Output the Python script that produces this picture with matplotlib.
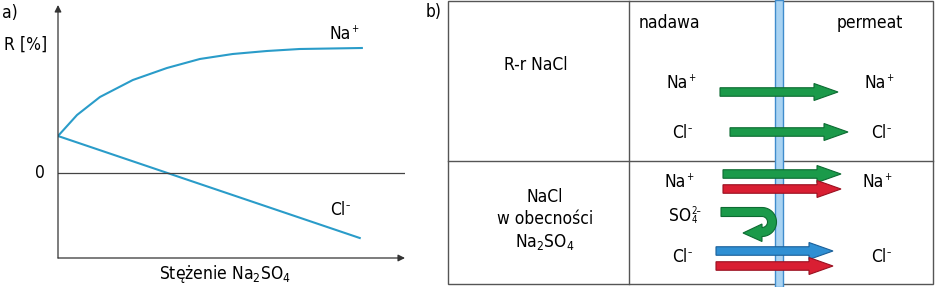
import numpy as np
import matplotlib
matplotlib.use("Agg")
import matplotlib.pyplot as plt
from matplotlib.patches import FancyArrow, Rectangle, Polygon

plt.rcParams['font.family'] = ['DejaVu Sans']
plt.rcParams['font.stretch'] = 'condensed'
plt.rcParams['mathtext.default'] = 'regular'

# panel a) data (arbitrary units read off the sketch)
conc_na = [0, 0.63, 1.39, 2.48, 3.61, 4.70, 5.79, 6.92, 8.01, 10.07]
r_na = [3.7, 5.8, 7.6, 9.3, 10.5, 11.4, 11.9, 12.2, 12.4, 12.5]
conc_cl = [0, 10.0]
r_cl = [3.7, -6.5]

# panel b) table texts
row_labels = ['R-r NaCl', 'NaCl\nw obecności\nNa$_2$SO$_4$']
col_labels = ['nadawa', 'permeat']

curve_col = '#2a9cc9'
green, green_e = '#1b9a4a', '#0d6b32'
red, red_e = '#d91f33', '#9a1020'
blue, blue_e = '#2f8fd3', '#1a5f99'
line_col = '#555555'

fs = 12.5

fig = plt.figure(figsize=(9.38, 2.87), dpi=100)

# ---- panel a ----
ax = fig.add_axes([58 / 938, 29 / 287, 347 / 938, 253 / 287])
ax.set_xlim(0, 11.5)
ax.set_ylim(-8.5, 16.8)
ax.plot(conc_na, r_na, color=curve_col, lw=1.5)
ax.plot(conc_cl, r_cl, color=curve_col, lw=1.5)
ax.axhline(0, color='#444444', lw=0.9)
for s in ax.spines.values():
    s.set_visible(False)
ax.set_xticks([])
ax.set_yticks([])
ax.annotate('', xy=(0, 1), xytext=(0, 0), xycoords='axes fraction',
            arrowprops=dict(arrowstyle='-|>', color='#333333', lw=0.9,
                            mutation_scale=10, shrinkA=0, shrinkB=0))
ax.annotate('', xy=(1, 0), xytext=(0, 0), xycoords='axes fraction',
            arrowprops=dict(arrowstyle='-|>', color='#333333', lw=0.9,
                            mutation_scale=10, shrinkA=0, shrinkB=0))

# ---- overlay in pixel coords for panel b and labels ----
ov = fig.add_axes([0, 0, 1, 1])
ov.set_xlim(0, 938)
ov.set_ylim(287, 0)
ov.axis('off')
ov.patch.set_alpha(0)


def ion(x, y, base, sup=None, sub=None):
    t = ov.text(x - 2, y, base, fontsize=fs, ha='center', va='center')
    if sup:
        ov.annotate(sup, xy=(1, 0.6), xycoords=t, xytext=(0.3, 0),
                    textcoords='offset points', fontsize=fs * 0.55,
                    ha='left', va='baseline')
    if sub:
        ov.annotate(sub, xy=(1, 0.13), xycoords=t, xytext=(0.3, 0),
                    textcoords='offset points', fontsize=fs * 0.55,
                    ha='left', va='baseline')
    return t


ov.text(2, 13, 'a)', fontsize=fs, va='center')
ov.text(4, 45, 'R [%]', fontsize=fs, va='center')
ov.text(40, 173, '0', fontsize=fs, va='center', ha='center')
ion(342, 34, 'Na', '+')
ion(340, 210, 'Cl', '–')
ov.text(225, 274, 'Stężenie Na$_2$SO$_4$', fontsize=fs, va='center', ha='center')

# table frame
ov.text(426, 12, 'b)', fontsize=fs, va='center')
ov.add_patch(Rectangle((448, 1), 485, 283, fill=False, ec=line_col, lw=1))
ov.plot([629, 629], [1, 284], color=line_col, lw=1)
ov.plot([448, 933], [161, 161], color=line_col, lw=1)

ov.text(669, 23, col_labels[0], fontsize=fs, va='center', ha='center')
ov.text(870, 23, col_labels[1], fontsize=fs, va='center', ha='center')
ov.text(536, 65, row_labels[0], fontsize=fs, va='center', ha='center')
ov.text(545, 220, row_labels[1], fontsize=fs, va='center', ha='center',
        linespacing=1.25)

# membrane
ov.add_patch(Rectangle((775, 0), 8, 287, fc='#a9d3f2', ec='#3f8ccc', lw=1, zorder=2))

ion_texts = [
    (679, 83, 'Na', '+', None), (877, 83, 'Na', '+', None),
    (682, 133, 'Cl', '–', None), (881, 133, 'Cl', '–', None),
    (677, 182, 'Na', '+', None), (875, 182, 'Na', '+', None),
    (682, 216, 'SO', '2–', '4'),
    (682, 257, 'Cl', '–', None), (881, 257, 'Cl', '–', None),
]
for x, y, b, sp, sb in ion_texts:
    ion(x, y, b, sp, sb)

# straight arrows: x start, x end, y, fill, edge
arrows = [
    (720, 838, 92, green, green_e),
    (730, 848, 132, green, green_e),
    (723, 841, 174, green, green_e),
    (723, 841, 189, red, red_e),
    (716, 833, 251, blue, blue_e),
    (716, 833, 266, red, red_e),
]
for x0, x1, y, fc, ec in arrows:
    ov.add_patch(FancyArrow(x0, y, x1 - x0, 0, width=8.5, head_width=17,
                            head_length=24, length_includes_head=True,
                            fc=fc, ec=ec, lw=0.8, zorder=3))

# U-turn arrow for sulfate
cx, cy, r, w = 762, 222, 10, 9
th = np.linspace(-np.pi / 2, np.pi / 2, 40)
outer = np.c_[cx + (r + w / 2) * np.cos(th), cy + (r + w / 2) * np.sin(th)]
inner = np.c_[cx + (r - w / 2) * np.cos(th), cy + (r - w / 2) * np.sin(th)][::-1]
tip_y = cy + r + 1
pts = np.vstack([
    [[721, cy - r - w / 2]],
    outer,
    [[cx, cy + r + 9.5], [743, tip_y], [cx, cy + r - 8]],
    inner,
    [[721, cy - r + w / 2]],
])
ov.add_patch(Polygon(pts, closed=True, fc=green, ec=green_e, lw=0.8, zorder=3))

fig.savefig('out.png', dpi=100)
